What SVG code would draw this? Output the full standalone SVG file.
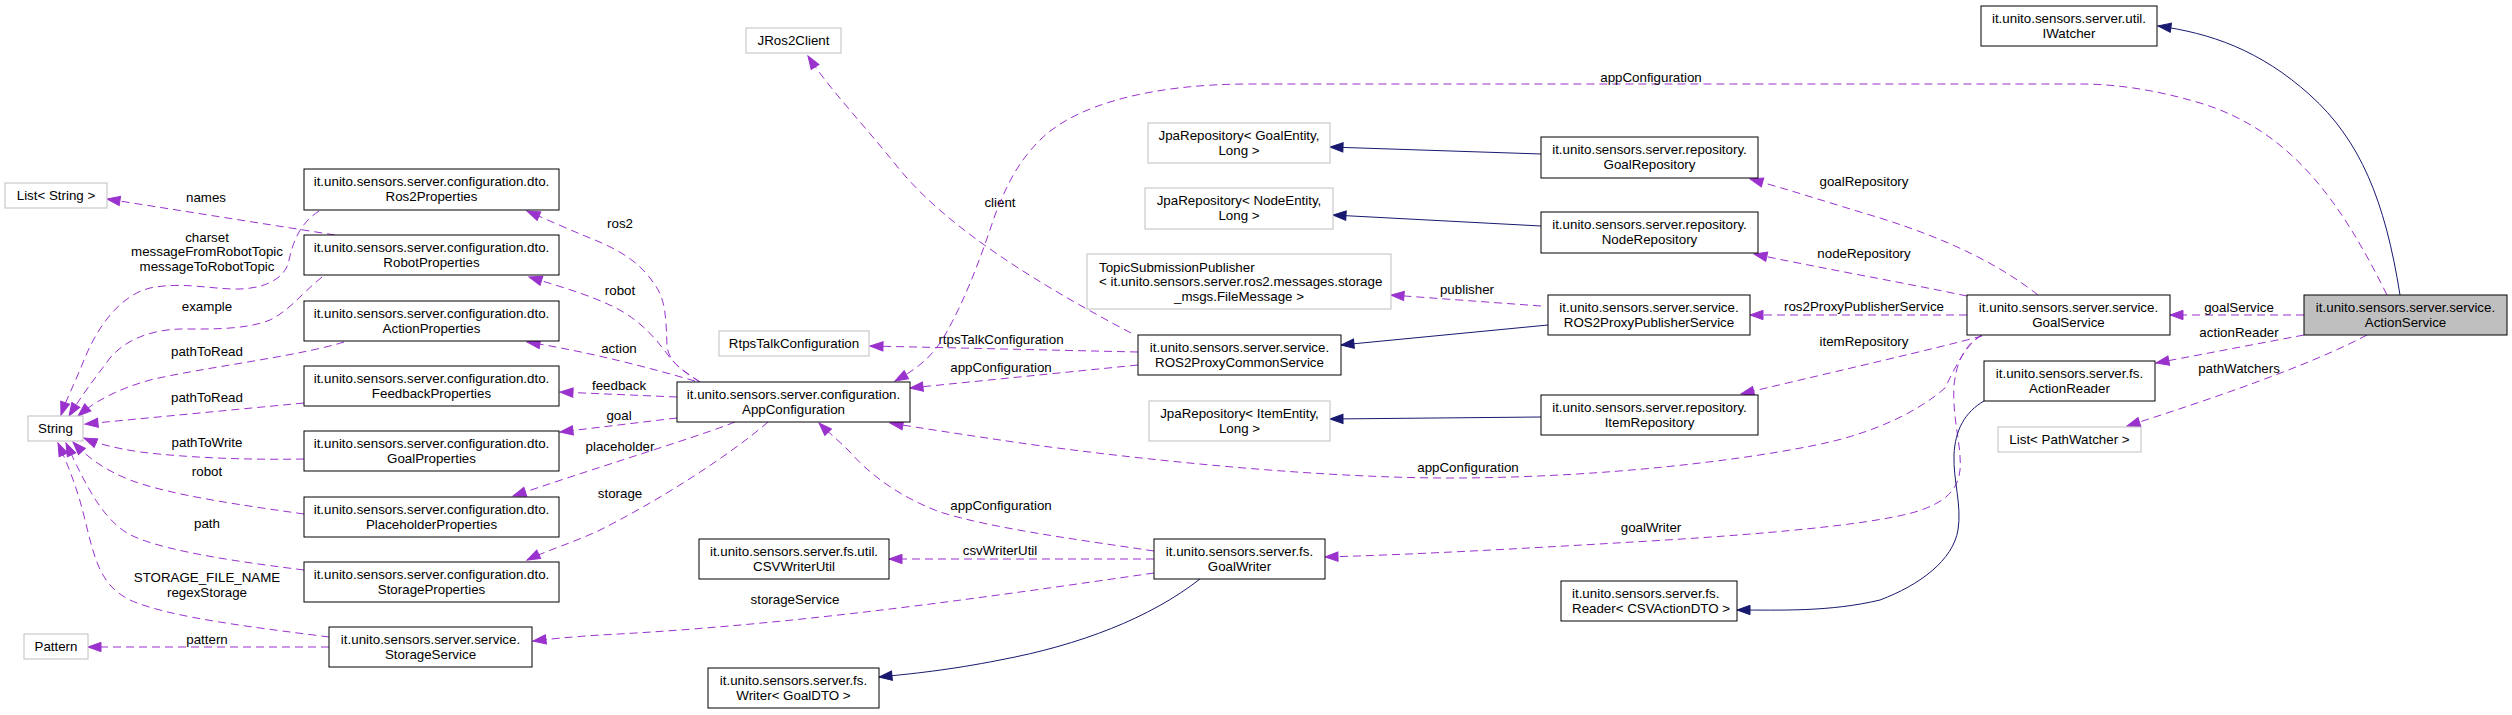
<svg xmlns="http://www.w3.org/2000/svg" width="2512" height="715" viewBox="0 0 2512 715">
<defs>
<style>
text{font-family:"Liberation Sans",Arial,sans-serif;font-size:13.33px;fill:#000;text-anchor:middle}
.n rect{fill:#fff;stroke:#000;stroke-width:1}
.x rect{fill:#fff;stroke:#bfbfbf;stroke-width:1}
.cur rect{fill:#bfbfbf;stroke:#000;stroke-width:1}
.l{text-anchor:start}
.u{fill:none;stroke:#9a32cd;stroke-width:1;stroke-dasharray:8,5;marker-end:url(#pa)}
.h{fill:none;stroke:#191970;stroke-width:1;marker-end:url(#na)}
</style>
<marker id="pa" markerUnits="userSpaceOnUse" markerWidth="15" markerHeight="11" refX="13" refY="4.65" orient="auto" overflow="visible"><path d="M0,0 L13,4.65 L0,9.3 Z" fill="#9a32cd" stroke="#9a32cd"/></marker>
<marker id="na" markerUnits="userSpaceOnUse" markerWidth="15" markerHeight="11" refX="13" refY="4.65" orient="auto" overflow="visible"><path d="M0,0 L13,4.65 L0,9.3 Z" fill="#191970" stroke="#191970"/></marker>
</defs>
<rect width="2512" height="715" fill="#fff"/>

<g id="edges">
<g><path class="u" d="M335,235 L107,199"/><text x="206" y="201.5">names</text></g>
<g><path class="u" d="M319,211 C296,226 292,248 288,264 C282,282 258,290 232,289 C205,288 180,282 150,288 C118,296 96,330 84,360 C74,385 66,400 61,415"/><text x="207" y="241.5">charset</text><text x="207" y="256">messageFromRobotTopic</text><text x="207" y="270.5">messageToRobotTopic</text></g>
<g><path class="u" d="M322,277 C300,295 290,310 270,320 C245,330 210,329 180,329 C150,330 125,340 110,358 C95,378 82,395 69,416"/></g>
<text x="207" y="310.5">example</text>
<g><path class="u" d="M344,342 C300,356 200,368 150,380 C115,390 94,402 78,416"/><text x="207" y="355.5">pathToRead</text></g>
<g><path class="u" d="M304,403 L85,424"/><text x="207" y="401.5">pathToRead</text></g>
<g><path class="u" d="M304,459 C250,460 190,458 140,452 C115,448 98,444 84,438"/><text x="207" y="446.5">pathToWrite</text></g>
<g><path class="u" d="M304,514 C240,505 170,495 130,480 C105,470 88,458 73,442"/><text x="207" y="475.5">robot</text></g>
<g><path class="u" d="M304,570 C240,562 170,552 135,537 C105,524 88,490 66,443"/><text x="207" y="527.5">path</text></g>
<g><path class="u" d="M329,637 C260,628 170,618 130,600 C100,585 95,560 85,520 C78,490 68,465 58,443"/><text x="207" y="581.5">STORAGE_FILE_NAME</text><text x="207" y="597">regexStorage</text></g>
<g><path class="u" d="M329,647 L88,647"/><text x="207" y="643.5">pattern</text></g>
<g><path class="u" d="M700,382 C684,372 668,362 667,345 C666,320 666,300 655,285 C640,262 620,250 590,238 C570,230 548,220 527,211"/><text x="620" y="227.5">ros2</text></g>
<g><path class="u" d="M700,382 C685,372 675,365 668,355 C655,338 645,326 625,313 C600,298 565,288 529,277"/><text x="620" y="294.5">robot</text></g>
<g><path class="u" d="M695,381 C650,368 590,352 527,342"/><text x="619" y="353">action</text></g>
<g><path class="u" d="M677,397 L560,392"/><text x="619" y="390">feedback</text></g>
<g><path class="u" d="M677,418 L560,432"/><text x="619" y="419.5">goal</text></g>
<g><path class="u" d="M735,422 C700,436 620,460 513,496"/><text x="620" y="450.5">placeholder</text></g>
<g><path class="u" d="M768,422 C730,455 660,500 600,530 C575,542 548,550 527,560"/><text x="620" y="497.5">storage</text></g>
<g><path class="u" d="M1154,573 C1000,595 800,625 600,635 C570,637 550,639 533,641"/><text x="795" y="603.5">storageService</text></g>
<g><path class="u" d="M1131,333 C1040,285 950,230 900,170 C860,120 830,90 808,56"/><text x="1000" y="206.5">client</text></g>
<g><path class="u" d="M1138,352 L870,346"/><text x="1001" y="343.5">rtpsTalkConfiguration</text></g>
<g><path class="u" d="M1138,365 L910,388"/><text x="1001" y="371.5">appConfiguration</text></g>
<g><path class="u" d="M2387,295 C2340,200 2290,130 2200,103 C2150,88 2110,84 2080,84 L1250,84 C1150,84 1075,105 1040,140 C1015,165 1005,190 995,215 C980,260 965,300 945,335 C932,358 915,370 895,381"/><text x="1651" y="81.5">appConfiguration</text></g>
<g><path class="u" d="M1982,335 C1965,345 1955,368 1945,388 C1920,410 1880,430 1830,442 C1750,460 1600,478 1450,478 C1300,478 1100,455 1000,440 C960,434 920,428 890,423"/><text x="1468" y="471.5">appConfiguration</text></g>
<g><path class="u" d="M2038,295 C2000,265 1950,240 1880,218 C1830,203 1790,190 1750,179"/><text x="1864" y="185.5">goalRepository</text></g>
<g><path class="u" d="M1967,296 C1900,282 1820,268 1754,254"/><text x="1864" y="257.5">nodeRepository</text></g>
<g><path class="u" d="M1967,315 L1750,315"/><text x="1864" y="310.5">ros2ProxyPublisherService</text></g>
<g><path class="u" d="M1982,336 C1930,350 1850,368 1741,394"/><text x="1864" y="345.5">itemRepository</text></g>
<g><path class="u" d="M1982,335 C1965,345 1957,360 1954,385 C1952,420 1962,445 1960,470 C1958,490 1945,503 1915,512 C1880,522 1800,532 1650,541 C1500,550 1400,555 1325,557"/><text x="1651" y="531.5">goalWriter</text></g>
<g><path class="u" d="M2304,315 L2170,315"/><text x="2239" y="311.5">goalService</text></g>
<g><path class="u" d="M2304,335 L2156,363"/><text x="2239" y="336.5">actionReader</text></g>
<g><path class="u" d="M2367,335 C2320,360 2240,390 2127,426"/><text x="2239" y="372.5">pathWatchers</text></g>
<g><path class="u" d="M1541,306 L1391,295"/><text x="1467" y="293.5">publisher</text></g>
<g><path class="u" d="M1154,551 C1080,540 990,528 940,512 C900,497 870,475 850,452 C838,440 828,432 819,423"/><text x="1001" y="509.5">appConfiguration</text></g>
<g><path class="u" d="M1154,559 L889,559"/><text x="1000" y="554.5">csvWriterUtil</text></g>
<path class="h" d="M1541,154 L1330,147"/>
<path class="h" d="M1541,226 L1333,215"/>
<path class="h" d="M1548,325 L1341,345"/>
<path class="h" d="M1541,417 L1330,419"/>
<path class="h" d="M1200,579 C1150,618 1080,645 1000,660 C950,670 910,674 879,677"/>
<path class="h" d="M1984,401 C1965,412 1955,430 1954,455 C1953,480 1962,505 1958,530 C1953,560 1920,585 1880,600 C1830,612 1780,610 1737,610"/>
<path class="h" d="M2400,295 C2385,200 2360,140 2310,95 C2260,50 2210,33 2158,26"/>
</g>

<g id="IWatcher" class="n"><rect x="1981" y="6" width="176" height="40"/><text x="2069" y="23">it.unito.sensors.server.util.</text><text x="2069" y="38">IWatcher</text></g>
<g id="JRos2Client" class="x"><rect x="746" y="28" width="95" height="25"/><text x="793.5" y="45">JRos2Client</text></g>
<g id="JpaGoal" class="x"><rect x="1148" y="123" width="182" height="40"/><text x="1239" y="140">JpaRepository&lt; GoalEntity,</text><text x="1239" y="155">Long &gt;</text></g>
<g id="GoalRepository" class="n"><rect x="1541" y="137" width="217" height="41"/><text x="1649.5" y="154">it.unito.sensors.server.repository.</text><text x="1649.5" y="169">GoalRepository</text></g>
<g id="JpaNode" class="x"><rect x="1145" y="188" width="188" height="41"/><text x="1239" y="205">JpaRepository&lt; NodeEntity,</text><text x="1239" y="220">Long &gt;</text></g>
<g id="NodeRepository" class="n"><rect x="1541" y="212" width="217" height="41"/><text x="1649.5" y="229">it.unito.sensors.server.repository.</text><text x="1649.5" y="244">NodeRepository</text></g>
<g id="TopicSubmissionPublisher" class="x"><rect x="1087" y="254" width="304" height="55"/><text class="l" x="1099" y="271.5">TopicSubmissionPublisher</text><text class="l" x="1099" y="285.5">&lt; it.unito.sensors.server.ros2.messages.storage</text><text x="1239" y="300.5">_msgs.FileMessage &gt;</text></g>
<g id="ROS2ProxyPublisherService" class="n"><rect x="1548" y="295" width="202" height="40"/><text x="1649" y="312">it.unito.sensors.server.service.</text><text x="1649" y="327">ROS2ProxyPublisherService</text></g>
<g id="GoalService" class="n"><rect x="1967" y="295" width="203" height="40"/><text x="2068.5" y="312">it.unito.sensors.server.service.</text><text x="2068.5" y="327">GoalService</text></g>
<g id="ActionService" class="cur"><rect x="2304" y="295" width="203" height="40"/><text x="2405.5" y="312">it.unito.sensors.server.service.</text><text x="2405.5" y="327">ActionService</text></g>
<g id="RtpsTalkConfiguration" class="x"><rect x="719" y="331" width="150" height="25"/><text x="794" y="348">RtpsTalkConfiguration</text></g>
<g id="ROS2ProxyCommonService" class="n"><rect x="1138" y="335" width="203" height="40"/><text x="1239.5" y="352">it.unito.sensors.server.service.</text><text x="1239.5" y="367">ROS2ProxyCommonService</text></g>
<g id="ActionReader" class="n"><rect x="1984" y="361" width="171" height="40"/><text x="2069.5" y="378">it.unito.sensors.server.fs.</text><text x="2069.5" y="393">ActionReader</text></g>
<g id="AppConfiguration" class="n"><rect x="677" y="382" width="233" height="40"/><text x="793.5" y="399">it.unito.sensors.server.configuration.</text><text x="793.5" y="414">AppConfiguration</text></g>
<g id="ItemRepository" class="n"><rect x="1541" y="395" width="217" height="40"/><text x="1649.5" y="412">it.unito.sensors.server.repository.</text><text x="1649.5" y="427">ItemRepository</text></g>
<g id="JpaItem" class="x"><rect x="1149" y="401" width="181" height="40"/><text x="1239.5" y="418">JpaRepository&lt; ItemEntity,</text><text x="1239.5" y="433">Long &gt;</text></g>
<g id="ListPathWatcher" class="x"><rect x="1998" y="427" width="143" height="25"/><text x="2069.5" y="444">List&lt; PathWatcher &gt;</text></g>
<g id="CSVWriterUtil" class="n"><rect x="699" y="539" width="190" height="40"/><text x="794" y="556">it.unito.sensors.server.fs.util.</text><text x="794" y="571">CSVWriterUtil</text></g>
<g id="GoalWriter" class="n"><rect x="1154" y="539" width="171" height="40"/><text x="1239.5" y="556">it.unito.sensors.server.fs.</text><text x="1239.5" y="571">GoalWriter</text></g>
<g id="ReaderCSVActionDTO" class="n"><rect x="1561" y="581" width="176" height="40"/><text class="l" x="1572" y="598">it.unito.sensors.server.fs.</text><text class="l" x="1572" y="613">Reader&lt; CSVActionDTO &gt;</text></g>
<g id="WriterGoalDTO" class="n"><rect x="708" y="668" width="171" height="40"/><text x="793.5" y="685">it.unito.sensors.server.fs.</text><text x="793.5" y="700">Writer&lt; GoalDTO &gt;</text></g>
<g id="ListString" class="x"><rect x="5" y="183" width="102" height="25"/><text x="56" y="200">List&lt; String &gt;</text></g>
<g id="Ros2Properties" class="n"><rect x="304" y="169" width="255" height="41"/><text x="431.5" y="186">it.unito.sensors.server.configuration.dto.</text><text x="431.5" y="201">Ros2Properties</text></g>
<g id="RobotProperties" class="n"><rect x="304" y="235" width="255" height="40"/><text x="431.5" y="252">it.unito.sensors.server.configuration.dto.</text><text x="431.5" y="267">RobotProperties</text></g>
<g id="ActionProperties" class="n"><rect x="304" y="301" width="255" height="40"/><text x="431.5" y="318">it.unito.sensors.server.configuration.dto.</text><text x="431.5" y="333">ActionProperties</text></g>
<g id="FeedbackProperties" class="n"><rect x="304" y="366" width="255" height="40"/><text x="431.5" y="383">it.unito.sensors.server.configuration.dto.</text><text x="431.5" y="398">FeedbackProperties</text></g>
<g id="GoalProperties" class="n"><rect x="304" y="431" width="255" height="40"/><text x="431.5" y="448">it.unito.sensors.server.configuration.dto.</text><text x="431.5" y="463">GoalProperties</text></g>
<g id="PlaceholderProperties" class="n"><rect x="304" y="497" width="255" height="40"/><text x="431.5" y="514">it.unito.sensors.server.configuration.dto.</text><text x="431.5" y="529">PlaceholderProperties</text></g>
<g id="StorageProperties" class="n"><rect x="304" y="562" width="255" height="40"/><text x="431.5" y="579">it.unito.sensors.server.configuration.dto.</text><text x="431.5" y="594">StorageProperties</text></g>
<g id="StorageService" class="n"><rect x="329" y="627" width="203" height="40"/><text x="430.5" y="644">it.unito.sensors.server.service.</text><text x="430.5" y="659">StorageService</text></g>
<g id="String" class="x"><rect x="28" y="416" width="55" height="25"/><text x="55.5" y="433">String</text></g>
<g id="Pattern" class="x"><rect x="24" y="634" width="64" height="25"/><text x="56" y="651">Pattern</text></g>
</svg>
